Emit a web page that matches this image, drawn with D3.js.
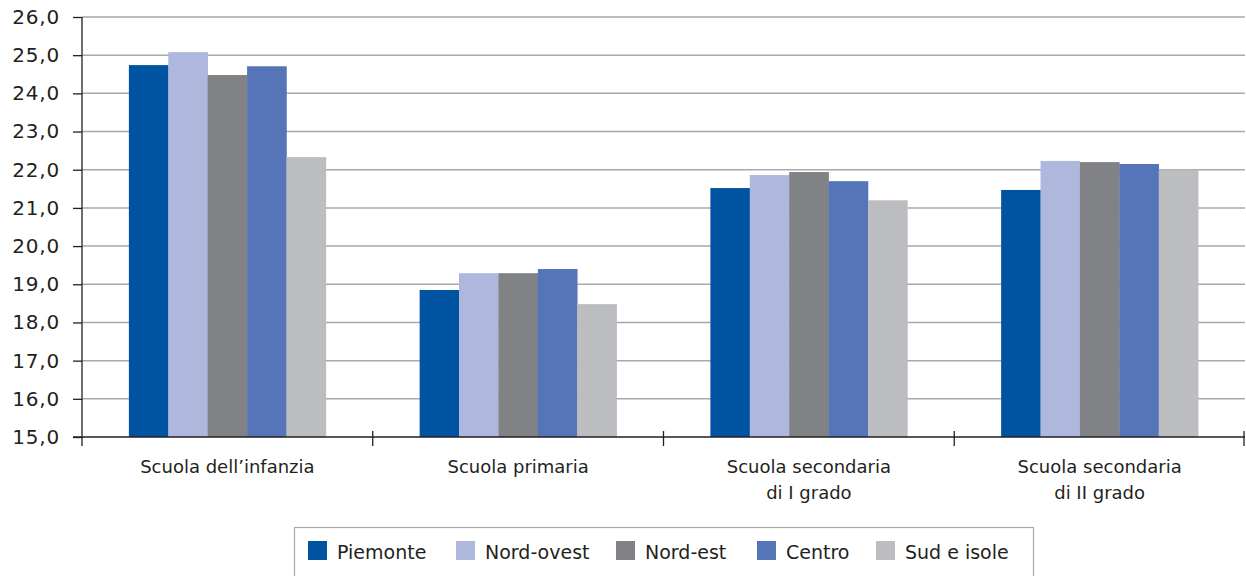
<!DOCTYPE html>
<html>
<head>
<meta charset="utf-8">
<script src="https://cdn.jsdelivr.net/npm/d3@7"></script>
<style>
  html, body { margin: 0; padding: 0; background: #fff; }
  svg { display: block; }
</style>
</head>
<body>
<svg id="chart" width="1246" height="576"></svg>
<script>
const categories = [
  ["Scuola dell\u2019infanzia"],
  ["Scuola primaria"],
  ["Scuola secondaria", "di I grado"],
  ["Scuola secondaria", "di II grado"]
];
const seriesNames = ["Piemonte", "Nord-ovest", "Nord-est", "Centro", "Sud e isole"];
const seriesColors = ["#0053a0", "#adb8dc", "#808285", "#5675b8", "#bcbdc1"];
const piemonte  = [24.74, 18.85, 21.52, 21.47];
const nordOvest = [25.08, 19.29, 21.86, 22.23];
const nordEst   = [24.48, 19.29, 21.94, 22.20];
const centro    = [24.71, 19.40, 21.70, 22.15];
const sudIsole  = [22.33, 18.48, 21.20, 22.00];
const seriesValues = [piemonte, nordOvest, nordEst, centro, sudIsole];
const yTicks = [15, 16, 17, 18, 19, 20, 21, 22, 23, 24, 25, 26];

(function () {
const svg = d3.select("#chart");
const mLeft = 82, mRight = 1245, mTop = 17, mBottom = 437;
const textColor = "#231f20";

const catIdx = categories.map((d, i) => i);
const x0 = d3.scaleBand().domain(catIdx).range([mLeft, mRight]).paddingInner(0).paddingOuter(0);
const x1 = d3.scaleBand().domain(seriesNames).range([0, x0.bandwidth()]).paddingInner(0).paddingOuter(1.19);
const y = d3.scaleLinear().domain([15, 26]).range([mBottom, mTop]);

// gridlines
svg.append("g").selectAll("line").data(yTicks.filter(t => t > 15)).join("line")
  .attr("x1", mLeft).attr("x2", mRight)
  .attr("y1", d => y(d)).attr("y2", d => y(d))
  .attr("stroke", "#a7a9ac").attr("stroke-width", 1.5);

// bars
const groups = svg.append("g").selectAll("g").data(catIdx).join("g")
  .attr("transform", i => `translate(${x0(i)},0)`);
groups.selectAll("rect")
  .data(i => seriesNames.map((s, k) => ({ s, k, v: seriesValues[k][i] })))
  .join("rect")
  .attr("x", d => x1(d.s))
  .attr("width", x1.bandwidth() + 0.3)
  .attr("y", d => y(d.v))
  .attr("height", d => y(15) - y(d.v))
  .attr("fill", d => seriesColors[d.k]);

// y axis
const yAxis = d3.axisLeft(y).tickValues(yTicks).tickSize(9).tickPadding(13)
  .tickFormat(d => d3.format(".1f")(d).replace(".", ","));
const gy = svg.append("g").attr("transform", `translate(${mLeft},0)`).call(yAxis);
gy.select(".domain").remove();
gy.selectAll(".tick line").attr("stroke", "#231f20").attr("stroke-width", 1.3);
gy.selectAll(".tick text").attr("fill", textColor)
  .style("font-family", "'DejaVu Sans', sans-serif").style("font-size", "20px")
  .style("letter-spacing", "0.8px");
svg.append("line").attr("x1", mLeft).attr("x2", mLeft).attr("y1", mTop).attr("y2", mBottom + 9)
  .attr("stroke", "#231f20").attr("stroke-width", 1.3);

// x axis
svg.append("line").attr("x1", mLeft - 9).attr("x2", mRight).attr("y1", mBottom).attr("y2", mBottom)
  .attr("stroke", "#231f20").attr("stroke-width", 1.3);
const bounds = catIdx.map(i => x0(i)).concat([mRight - 1]);
svg.append("g").selectAll("line").data(bounds.slice(1)).join("line")
  .attr("x1", d => d).attr("x2", d => d).attr("y1", mBottom - 6).attr("y2", mBottom + 9)
  .attr("stroke", "#231f20").attr("stroke-width", 1.3);

// category labels
const lab = svg.append("g").selectAll("text").data(catIdx).join("text")
  .attr("text-anchor", "middle")
  .attr("fill", textColor)
  .style("font-family", "'DejaVu Sans', sans-serif").style("font-size", "18px");
lab.each(function(i) {
  const t = d3.select(this);
  categories[i].forEach((line, j) => {
    t.append("tspan").attr("x", x0(i) + x0.bandwidth() / 2).attr("y", 473 + j * 26).text(line);
  });
});

// legend
const lg = svg.append("g");
lg.append("rect").attr("x", 294.5).attr("y", 527.5).attr("width", 739).attr("height", 60)
  .attr("fill", "none").attr("stroke", "#a7a9ac").attr("stroke-width", 1.2);
const legendX = [308, 456, 616, 757, 876];
seriesNames.forEach((s, k) => {
  lg.append("rect").attr("x", legendX[k]).attr("y", 541).attr("width", 19).attr("height", 19)
    .attr("fill", seriesColors[k]);
  lg.append("text").attr("x", legendX[k] + 29).attr("y", 559).text(s)
    .attr("fill", textColor)
    .style("font-family", "'DejaVu Sans', sans-serif").style("font-size", "19px");
});
})();
</script>
</body>
</html>
